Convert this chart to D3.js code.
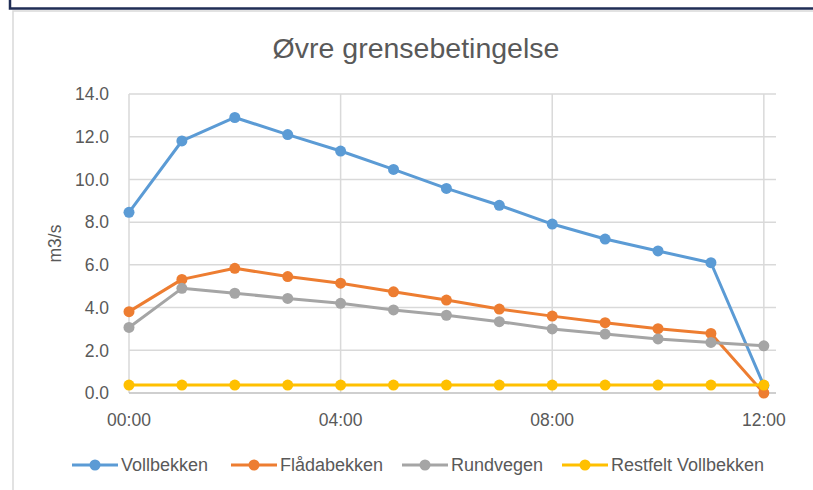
<!DOCTYPE html>
<html>
<head>
<meta charset="utf-8">
<script src="https://cdn.jsdelivr.net/npm/d3@7"></script>
<style>
  body { margin: 0; background: #fff; }
  svg { display: block; font-family: "Liberation Sans", Arial, sans-serif; }
</style>
</head>
<body>
<svg id="chart" width="813" height="490"></svg>
<script>
// hours 00:00 .. 12:00
const hours = [0, 1, 2, 3, 4, 5, 6, 7, 8, 9, 10, 11, 12];
const xTicks = [0, 4, 8, 12];
const xTickLabels = ["00:00", "04:00", "08:00", "12:00"];
const yTicks = [0, 2, 4, 6, 8, 10, 12, 14];

const seriesNames = ["Vollbekken", "Flådabekken", "Rundvegen", "Restfelt Vollbekken"];
const vollbekken = [8.46, 11.8, 12.9, 12.1, 11.33, 10.47, 9.58, 8.79, 7.91, 7.21, 6.65, 6.1, 0.35];
const fladabekken = [3.81, 5.32, 5.84, 5.45, 5.14, 4.74, 4.35, 3.93, 3.6, 3.29, 3.01, 2.79, 0.0];
const rundvegen = [3.07, 4.9, 4.67, 4.43, 4.2, 3.89, 3.64, 3.34, 3.0, 2.76, 2.53, 2.37, 2.21];
const restfelt = [0.37, 0.37, 0.37, 0.37, 0.37, 0.37, 0.37, 0.37, 0.37, 0.37, 0.37, 0.37, 0.37];
const colors = ["#5B9BD5", "#ED7D31", "#A5A5A5", "#FFC000"];

const allSeries = [vollbekken, fladabekken, rundvegen, restfelt];

const svg = d3.select("#chart");
const textColor = "#595959";

// outer frames
svg.append("path")
  .attr("d", "M10,0 V8.5 H813")
  .attr("fill", "none")
  .attr("stroke", "#1F2D55")
  .attr("stroke-width", 2.5);
svg.append("path")
  .attr("d", "M13,490 V11 H813")
  .attr("fill", "none")
  .attr("stroke", "#d9d9d9")
  .attr("stroke-width", 1.5);

const plotLeft = 129, plotRight = 776, plotTop = 94, plotBottom = 393;

var x = d3.scaleLinear()
  .domain([0, 12.23])
  .range([plotLeft, plotRight]);

var y = d3.scaleLinear()
  .domain([0, 14])
  .range([plotBottom, plotTop]);

// horizontal grid
svg.append("g")
  .selectAll("line")
  .data(yTicks.slice(1))
  .enter()
  .append("line")
    .attr("x1", plotLeft)
    .attr("x2", plotRight)
    .attr("y1", d => y(d))
    .attr("y2", d => y(d))
    .attr("stroke", "#d9d9d9")
    .attr("stroke-width", 1.5);

// vertical grid
svg.append("g")
  .selectAll("line")
  .data(xTicks)
  .enter()
  .append("line")
    .attr("x1", d => x(d))
    .attr("x2", d => x(d))
    .attr("y1", plotTop)
    .attr("y2", plotBottom)
    .attr("stroke", "#d9d9d9")
    .attr("stroke-width", 1.5);

// x axis line
svg.append("line")
  .attr("x1", plotLeft)
  .attr("x2", plotRight)
  .attr("y1", y(0))
  .attr("y2", y(0))
  .attr("stroke", "#bfbfbf")
  .attr("stroke-width", 1.5);

// y tick labels
svg.append("g")
  .selectAll("text")
  .data(yTicks)
  .enter()
  .append("text")
    .attr("x", 109)
    .attr("y", d => y(d))
    .attr("dy", "0.36em")
    .attr("text-anchor", "end")
    .attr("fill", textColor)
    .style("font-size", "17.5px")
    .text(d => d.toFixed(1));

// x tick labels
svg.append("g")
  .selectAll("text")
  .data(xTicks)
  .enter()
  .append("text")
    .attr("x", d => x(d))
    .attr("y", 420)
    .attr("dy", "0.36em")
    .attr("text-anchor", "middle")
    .attr("fill", textColor)
    .style("font-size", "17.5px")
    .text((d, i) => xTickLabels[i]);

// title
svg.append("text")
  .attr("x", 416)
  .attr("y", 48)
  .attr("dy", "0.35em")
  .attr("text-anchor", "middle")
  .attr("fill", textColor)
  .style("font-size", "28.5px")
  .text("Øvre grensebetingelse");

// y axis title
svg.append("text")
  .attr("transform", "translate(55," + ((plotTop + plotBottom) / 2) + ") rotate(-90)")
  .attr("dy", "0.35em")
  .attr("text-anchor", "middle")
  .attr("fill", textColor)
  .style("font-size", "17.5px")
  .text("m3/s");

const line = d3.line()
  .x((d, i) => x(hours[i]))
  .y(d => y(d));

allSeries.forEach(function (vals, s) {
  const g = svg.append("g");
  g.append("path")
    .datum(vals)
    .attr("d", line)
    .attr("fill", "none")
    .attr("stroke", colors[s])
    .attr("stroke-width", 3)
    .attr("stroke-linejoin", "round");
  g.selectAll("circle")
    .data(vals)
    .enter()
    .append("circle")
      .attr("cx", (d, i) => x(hours[i]))
      .attr("cy", d => y(d))
      .attr("r", 5.5)
      .attr("fill", colors[s]);
});

// legend
const legendX = [72, 231, 402, 562];
const legend = svg.append("g");
seriesNames.forEach(function (name, i) {
  const lg = legend.append("g").attr("transform", "translate(" + legendX[i] + ",465)");
  lg.append("line")
    .attr("x1", 0).attr("x2", 46)
    .attr("stroke", colors[i])
    .attr("stroke-width", 3);
  lg.append("circle")
    .attr("cx", 23).attr("r", 5.5)
    .attr("fill", colors[i]);
  lg.append("text")
    .attr("x", 49)
    .attr("dy", "0.36em")
    .attr("fill", textColor)
    .style("font-size", "18px")
    .text(name);
});
</script>
</body>
</html>
